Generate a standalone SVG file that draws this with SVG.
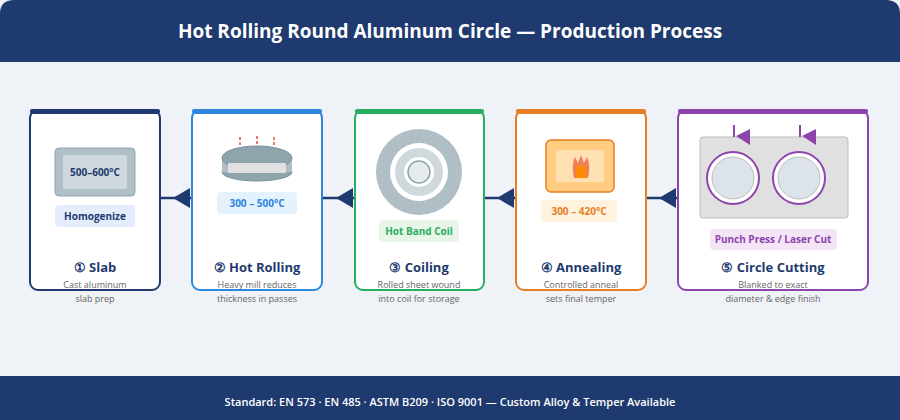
<svg xmlns="http://www.w3.org/2000/svg" width="900" height="420" viewBox="0 0 900 420">
<style>
text{font-family:"Open Sans","Noto Sans","Liberation Sans",sans-serif}
.card{fill:#fff;stroke-width:2}
.title{font-size:13px;font-weight:700;fill:#1e3a6e;text-anchor:middle}
.desc{font-size:9px;fill:#666;text-anchor:middle}
.badge{font-size:10px;font-weight:700;text-anchor:middle}
.conn{stroke:#1e3a6e;stroke-width:2.5}
.ah{fill:#1e3a6e}
</style>
<rect width="900" height="420" fill="#eff2f7"/>
<path d="M0 14 Q0 0 14 0 H886 Q900 0 900 14 V62 H0 Z" fill="#1e3a6e"/>
<text x="450" y="38" font-size="19" font-weight="700" fill="#fff" text-anchor="middle">Hot Rolling Round Aluminum Circle — Production Process</text>
<rect y="376" width="900" height="44" fill="#1e3a6e"/>
<text x="450" y="406" font-size="11" font-weight="600" fill="#fff" text-anchor="middle">Standard: EN 573 · EN 485 · ASTM B209 · ISO 9001 — Custom Alloy &amp; Temper Available</text>

<g id="connectors">
<line class="conn" x1="160" y1="198" x2="192" y2="198"/><polygon class="ah" points="173,198 190,188 190,208"/>
<line class="conn" x1="322" y1="198" x2="355" y2="198"/><polygon class="ah" points="336,198 353,188 353,208"/>
<line class="conn" x1="484" y1="198" x2="516" y2="198"/><polygon class="ah" points="497,198 514,188 514,208"/>
<line class="conn" x1="646" y1="198" x2="678" y2="198"/><polygon class="ah" points="659,198 676,188 676,208"/>
</g>

<g id="slab">
<rect class="card" x="30" y="110" width="130" height="180" rx="8" stroke="#1e3a6e"/>
<path d="M30 118 Q30 110 38 110 H152 Q160 110 160 118 V114 H30 Z" fill="#1e3a6e"/><rect x="30" y="109" width="130" height="5" rx="2" fill="#1e3a6e"/>
<rect x="55" y="148" width="80" height="48" rx="4" fill="#b0bec5" stroke="#90a4ae"/>
<rect x="63" y="155" width="64" height="34" rx="2" fill="#cfd8dc"/>
<text x="95" y="176" font-size="10" font-weight="700" fill="#1e3a6e" text-anchor="middle">500–600°C</text>
<rect x="55" y="205" width="80" height="22" rx="4" fill="#e3edfb"/>
<text class="badge" x="95" y="220" fill="#1e3a6e">Homogenize</text>
<text class="title" x="95" y="272">① Slab</text>
<text class="desc" x="95" y="288">Cast aluminum</text><text class="desc" x="95" y="302">slab prep</text>
</g>

<g id="hotrolling">
<rect class="card" x="192" y="110" width="130" height="180" rx="8" stroke="#2e86de"/>
<rect x="192" y="109" width="130" height="5" rx="2" fill="#2e86de"/>
<line x1="240" y1="137" x2="240" y2="146" stroke="#e74c3c" stroke-width="1.5" stroke-dasharray="3,2"/>
<line x1="257" y1="136" x2="257" y2="145" stroke="#e74c3c" stroke-width="1.5" stroke-dasharray="3,2"/>
<line x1="274" y1="137" x2="274" y2="146" stroke="#e74c3c" stroke-width="1.5" stroke-dasharray="3,2"/>
<ellipse cx="257" cy="172" rx="35" ry="9" fill="#90a4ae" stroke="#78909c"/>
<rect x="222" y="158" width="70" height="14" fill="#b0bec5"/>
<ellipse cx="257" cy="158" rx="35" ry="12" fill="#90a4ae" stroke="#78909c"/>
<rect x="228" y="163" width="58" height="10" fill="#e0e0e0"/>
<rect x="217" y="192" width="80" height="22" rx="4" fill="#e3f2fd"/>
<text class="badge" x="257" y="207" fill="#2e86de" font-weight="600">300 – 500°C</text>
<text class="title" x="257" y="272">② Hot Rolling</text>
<text class="desc" x="257" y="288">Heavy mill reduces</text><text class="desc" x="257" y="302">thickness in passes</text>
</g>

<g id="coiling">
<rect class="card" x="355" y="110" width="129" height="180" rx="8" stroke="#27ae60"/>
<rect x="355" y="109" width="129" height="5" rx="2" fill="#27ae60"/>
<circle cx="419" cy="172" r="43" fill="#b0bec5"/>
<circle cx="419" cy="172" r="29" fill="#fff"/>
<circle cx="419" cy="172" r="24" fill="#cfd8dc"/>
<circle cx="419" cy="172" r="15" fill="#fff"/>
<circle cx="419" cy="172" r="11" fill="#e6ebef" stroke="#90a4ae" stroke-width="1.5"/>
<rect x="379" y="220" width="80" height="22" rx="4" fill="#e8f5e9"/>
<text class="badge" x="419" y="235" fill="#27ae60">Hot Band Coil</text>
<text class="title" x="419" y="272">③ Coiling</text>
<text class="desc" x="419" y="288">Rolled sheet wound</text><text class="desc" x="419" y="302">into coil for storage</text>
</g>

<g id="annealing">
<rect class="card" x="516" y="110" width="130" height="180" rx="8" stroke="#e67e22"/>
<rect x="516" y="109" width="130" height="5" rx="2" fill="#e67e22"/>
<rect x="546" y="140" width="68" height="52" rx="5" fill="#ffcc80" stroke="#e67e22" stroke-width="1.5"/>
<rect x="556" y="150" width="48" height="32" rx="2" fill="#ffe0b2"/>
<path d="M574 178 Q571 165 575 157 L578 163 L581 155 L584 163 L587 157 Q591 165 588 178 Z" fill="#ef6c4b" opacity="0.85"/>
<path d="M576 178 Q575 169 579 164 L581 168 L584 164 Q587 170 586 178 Z" fill="#ff8c00"/>
<rect x="541" y="200" width="76" height="22" rx="4" fill="#fff3e0"/>
<text class="badge" x="579" y="215" fill="#e67e22">300 – 420°C</text>
<text class="title" x="581" y="272">④ Annealing</text>
<text class="desc" x="581" y="288">Controlled anneal</text><text class="desc" x="581" y="302">sets final temper</text>
</g>

<g id="cutting">
<rect class="card" x="678" y="110" width="190" height="180" rx="8" stroke="#8e44ad"/>
<rect x="678" y="109" width="190" height="5" rx="2" fill="#8e44ad"/>
<rect x="700" y="137" width="148" height="81" rx="3" fill="#e0e0e0" stroke="#bdbdbd"/>
<circle cx="733" cy="178" r="26" fill="#fff" stroke="#8e44ad" stroke-width="2"/>
<circle cx="733" cy="178" r="21" fill="#dde3ea" stroke="#bdbdbd"/>
<circle cx="799" cy="178" r="26" fill="#fff" stroke="#8e44ad" stroke-width="2"/>
<circle cx="799" cy="178" r="21" fill="#dde3ea" stroke="#bdbdbd"/>
<line x1="734" y1="125" x2="734" y2="137" stroke="#8e44ad" stroke-width="2"/>
<polygon points="736,136 750,129 750,145" fill="#8e44ad"/>
<line x1="800" y1="125" x2="800" y2="137" stroke="#8e44ad" stroke-width="2"/>
<polygon points="802,136 816,129 816,145" fill="#8e44ad"/>
<rect x="710" y="229" width="127" height="21" rx="4" fill="#f3e5f5"/>
<text class="badge" x="773" y="243" fill="#8e44ad">Punch Press / Laser Cut</text>
<text class="title" x="773" y="272">⑤ Circle Cutting</text>
<text class="desc" x="773" y="288">Blanked to exact</text><text class="desc" x="773" y="302">diameter &amp; edge finish</text>
</g>
</svg>
